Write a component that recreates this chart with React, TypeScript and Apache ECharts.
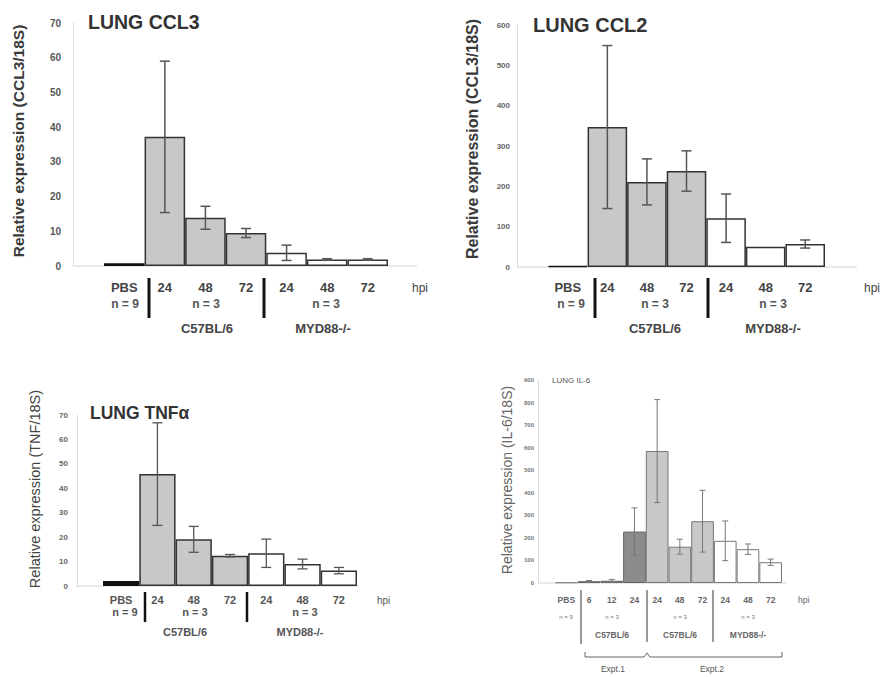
import React, { useEffect, useRef } from 'react';
import * as echarts from 'echarts';

// ---------- data ----------
const cclCategories = ['PBS', '24', '48', '72', '24', '48', '72'];
const cclGroups = ['pbs', 'wt', 'wt', 'wt', 'ko', 'ko', 'ko'];
const cclNLabels = ['n = 9', 'n = 3', 'n = 3'];
const cclStrainLabels = ['C57BL/6', 'MYD88-/-'];

const ccl3Values = [0.8, 37.2, 13.9, 9.5, 3.8, 1.9, 1.9];
const ccl3Errors = [0, 21.8, 3.3, 1.3, 2.2, 0.2, 0.2];

const ccl2Values = [2, 347, 211, 238, 121, 50, 57];
const ccl2Errors = [0, 202, 57, 50, 60, 0, 10];

const tnfValues = [2, 45.8, 19.1, 12.4, 13.4, 9.0, 6.3];
const tnfErrors = [0, 21, 5.3, 0.5, 5.8, 2, 1.3];

const il6Categories = ['PBS', '6', '12', '24', '24', '48', '72', '24', '48', '72'];
const il6Groups = ['pbs', 'e1', 'e1', 'e1', 'wt', 'wt', 'wt', 'ko', 'ko', 'ko'];
const il6Values = [3, 8, 10, 228, 585, 161, 274, 187, 150, 92];
const il6Errors = [0, 3, 6, 105, 228, 33, 137, 88, 23, 14];
const il6NLabels = ['n = 9', 'n = 3', 'n = 3', 'n = 3'];
const il6StrainLabels = ['C57BL/6', 'C57BL/6', 'MYD88-/-'];
const il6ExptLabels = ['Expt.1', 'Expt.2'];

const FONT = '"Liberation Sans", Arial, Helvetica, sans-serif';

function txt(text: string, x: number, y: number, size: number, o: any = {}) {
  const align = o.align || 'center';
  return {
    type: 'text',
    x,
    y,
    rotation: o.rotation || 0,
    z: 10,
    style: {
      text,
      fontSize: size,
      fontWeight: o.weight || 'normal',
      fontFamily: FONT,
      fill: o.color || '#333',
      align,
      verticalAlign: 'middle',
      textAlign: align,
      textVerticalAlign: 'middle',
    },
  };
}

function line(x1: number, y1: number, x2: number, y2: number, stroke: string, w: number) {
  return { type: 'line', z: 0, shape: { x1, y1, x2, y2 }, style: { stroke, lineWidth: w } };
}

function buildPanel(idx: number, p: any) {
  const grid = { left: p.left, top: p.top, width: p.width, height: p.height };
  const xAxis = {
    type: 'category',
    gridIndex: idx,
    data: p.categories,
    axisLine: { show: false },
    axisTick: { show: false },
    axisLabel: {
      interval: 0,
      margin: p.catMargin,
      fontSize: p.catSize,
      fontWeight: 'bold',
      color: p.catColor,
      fontFamily: FONT,
    },
  };
  const yAxis = {
    type: 'value',
    gridIndex: idx,
    min: 0,
    max: p.max,
    interval: p.interval,
    offset: p.offset,
    axisLine: { show: true, lineStyle: { color: '#dcdcdc', width: 1 } },
    axisTick: { show: false },
    splitLine: { show: false },
    axisLabel: {
      margin: p.tickMargin,
      fontSize: p.tickSize,
      fontWeight: 'bold',
      color: p.tickColor,
      fontFamily: FONT,
    },
  };
  const bar = {
    type: 'bar',
    xAxisIndex: idx,
    yAxisIndex: idx,
    barWidth: '100%',
    z: 2,
    data: p.values.map((v: number, i: number) => ({
      value: v,
      itemStyle: {
        color: p.fill[p.groups[i]],
        borderColor: p.border[p.groups[i]],
        borderWidth: p.borderWidth,
      },
    })),
  };
  const err = {
    type: 'custom',
    xAxisIndex: idx,
    yAxisIndex: idx,
    z: 3,
    encode: { x: 0, y: 1 },
    data: p.values.map((v: number, i: number) => [i, v, p.errors[i]]),
    renderItem: (_params: any, api: any) => {
      const x = api.value(0);
      const y = api.value(1);
      const e = api.value(2);
      if (!e) return null;
      const top = api.coord([x, y + e]);
      const bot = api.coord([x, Math.max(0, y - e)]);
      const hw = p.cap;
      const st = { stroke: p.errColor, lineWidth: p.errWidth };
      return {
        type: 'group',
        children: [
          { type: 'line', shape: { x1: top[0], y1: top[1], x2: bot[0], y2: bot[1] }, style: st },
          { type: 'line', shape: { x1: top[0] - hw, y1: top[1], x2: top[0] + hw, y2: top[1] }, style: st },
          { type: 'line', shape: { x1: bot[0] - hw, y1: bot[1], x2: bot[0] + hw, y2: bot[1] }, style: st },
        ],
      };
    },
  };
  return { grid, xAxis, yAxis, series: [bar, err] };
}

const cclFill = { pbs: '#111111', wt: '#c8c8c8', ko: '#ffffff' };
const cclBorder = { pbs: '#111111', wt: '#333333', ko: '#333333' };

export default function App() {
  const ref = useRef<HTMLDivElement>(null);
  useEffect(() => {
    document.body.style.margin = '0';
    if (!ref.current) return;
    const chart = echarts.init(ref.current, undefined, { renderer: 'svg' });

    const panels = [
      {
        left: 104, top: 23, width: 284, height: 243, max: 70, interval: 10, offset: 31,
        categories: cclCategories, groups: cclGroups, values: ccl3Values, errors: ccl3Errors,
        fill: cclFill, border: cclBorder, borderWidth: 1.5,
        catMargin: 15, catSize: 13, catColor: '#444',
        tickMargin: 12, tickSize: 10, tickColor: '#555',
        cap: 5, errColor: '#555', errWidth: 1.5,
      },
      {
        left: 548, top: 25, width: 277, height: 242, max: 600, interval: 100, offset: 31,
        categories: cclCategories, groups: cclGroups, values: ccl2Values, errors: ccl2Errors,
        fill: { pbs: '#333333', wt: '#c8c8c8', ko: '#ffffff' }, border: cclBorder, borderWidth: 1.5,
        catMargin: 14, catSize: 13, catColor: '#444',
        tickMargin: 7, tickSize: 8, tickColor: '#666',
        cap: 5, errColor: '#555', errWidth: 1.5,
      },
      {
        left: 103, top: 415, width: 254, height: 171, max: 70, interval: 10, offset: 26,
        categories: cclCategories, groups: cclGroups, values: tnfValues, errors: tnfErrors,
        fill: cclFill, border: cclBorder, borderWidth: 1.5,
        catMargin: 8, catSize: 11, catColor: '#555',
        tickMargin: 9, tickSize: 8, tickColor: '#666',
        cap: 5, errColor: '#555', errWidth: 1.3,
      },
      {
        left: 555, top: 380, width: 227, height: 203, max: 900, interval: 100, offset: 17,
        categories: il6Categories, groups: il6Groups, values: il6Values, errors: il6Errors,
        fill: { pbs: '#999999', e1: '#8c8c8c', wt: '#c8c8c8', ko: '#ffffff' },
        border: { pbs: '#888888', e1: '#666666', wt: '#777777', ko: '#777777' }, borderWidth: 1,
        catMargin: 12, catSize: 8.5, catColor: '#666',
        tickMargin: 4, tickSize: 6, tickColor: '#777',
        cap: 3, errColor: '#777', errWidth: 1,
      },
    ];

    const built = panels.map((p, i) => buildPanel(i, p));

    const graphics: any[] = [
      // baselines
      line(73, 266, 417, 266, '#d4d4d4', 1),
      line(517, 267, 857, 267, '#d4d4d4', 1),
      line(77, 586, 358, 586, '#d4d4d4', 1),
      line(538, 583, 787, 583, '#d4d4d4', 1),

      // ---- panel 1: CCL3 ----
      txt('LUNG CCL3', 88, 22, 19.5, { align: 'left', weight: 'bold', color: '#333' }),
      txt('Relative expression (CCL3/18S)', 18, 141, 15.5, { rotation: Math.PI / 2, weight: 'bold', color: '#3a3a3a' }),
      txt('hpi', 412, 288, 12, { align: 'left', color: '#444' }),
      txt(cclNLabels[0], 125, 304, 12, { weight: 'bold', color: '#555' }),
      txt(cclNLabels[1], 206, 304, 12, { weight: 'bold', color: '#555' }),
      txt(cclNLabels[2], 326, 304, 12, { weight: 'bold', color: '#555' }),
      txt(cclStrainLabels[0], 207, 328, 13, { weight: 'bold', color: '#444' }),
      txt(cclStrainLabels[1], 323, 328, 13, { weight: 'bold', color: '#444' }),
      line(149, 278, 149, 318, '#111', 3),
      line(264, 278, 264, 318, '#111', 3),

      // ---- panel 2: CCL2 ----
      txt('LUNG CCL2', 533, 25, 20, { align: 'left', weight: 'bold', color: '#333' }),
      txt('Relative expression (CCL3/18S)', 472, 139, 16, { rotation: Math.PI / 2, weight: 'bold', color: '#3a3a3a' }),
      txt('hpi', 864, 288, 12, { align: 'left', color: '#444' }),
      txt(cclNLabels[0], 571, 304, 12, { weight: 'bold', color: '#555' }),
      txt(cclNLabels[1], 655, 304, 12, { weight: 'bold', color: '#555' }),
      txt(cclNLabels[2], 773, 304, 12, { weight: 'bold', color: '#555' }),
      txt(cclStrainLabels[0], 655, 328, 13, { weight: 'bold', color: '#444' }),
      txt(cclStrainLabels[1], 773, 328, 13, { weight: 'bold', color: '#444' }),
      line(595, 278, 595, 318, '#111', 3),
      line(708, 278, 708, 318, '#111', 3),

      // ---- panel 3: TNF ----
      txt('LUNG TNFα', 90, 413, 17.5, { align: 'left', weight: 'bold', color: '#333' }),
      txt('Relative expression (TNF/18S)', 35, 489, 14.5, { rotation: Math.PI / 2, color: '#444' }),
      txt('hpi', 377, 600, 10, { align: 'left', color: '#555' }),
      txt(cclNLabels[0], 125, 612, 11, { weight: 'bold', color: '#555' }),
      txt(cclNLabels[1], 195, 612, 11, { weight: 'bold', color: '#555' }),
      txt(cclNLabels[2], 305, 612, 11, { weight: 'bold', color: '#555' }),
      txt(cclStrainLabels[0], 185, 632, 11, { weight: 'bold', color: '#555' }),
      txt(cclStrainLabels[1], 300, 632, 11, { weight: 'bold', color: '#555' }),
      line(145, 592, 145, 622, '#111', 2.5),
      line(247, 592, 247, 622, '#111', 2.5),

      // ---- panel 4: IL-6 ----
      txt('LUNG IL-6', 552, 380, 8, { align: 'left', color: '#555' }),
      txt('Relative expression (IL-6/18S)', 507, 480, 14, { rotation: Math.PI / 2, color: '#666' }),
      txt('hpi', 798, 600, 8.5, { align: 'left', color: '#666' }),
      txt(il6NLabels[0], 566, 617, 6, { color: '#777' }),
      txt(il6NLabels[1], 612, 617, 6, { color: '#777' }),
      txt(il6NLabels[2], 680, 617, 6, { color: '#777' }),
      txt(il6NLabels[3], 748, 617, 6, { color: '#777' }),
      txt(il6StrainLabels[0], 612, 635, 8.5, { weight: 'bold', color: '#666' }),
      txt(il6StrainLabels[1], 680, 635, 8.5, { weight: 'bold', color: '#666' }),
      txt(il6StrainLabels[2], 748, 635, 8.5, { weight: 'bold', color: '#666' }),
      line(581, 590, 581, 644, '#999', 2),
      line(647, 590, 647, 642, '#999', 2),
      line(713, 590, 713, 642, '#999', 2),
      {
        type: 'polyline', z: 0,
        shape: { points: [[585, 652], [585, 657], [644, 657], [647, 653], [650, 657], [782, 657], [782, 652]] },
        style: { stroke: '#666', lineWidth: 1, fill: 'none' },
      },
      txt(il6ExptLabels[0], 613, 669, 8.5, { color: '#555' }),
      txt(il6ExptLabels[1], 712, 669, 8.5, { color: '#555' }),
    ];

    chart.setOption({
      animation: false,
      backgroundColor: '#ffffff',
      grid: built.map((b) => b.grid),
      xAxis: built.map((b) => b.xAxis),
      yAxis: built.map((b) => b.yAxis),
      series: built.flatMap((b) => b.series),
      graphic: { elements: graphics },
    });
    return () => chart.dispose();
  }, []);
  return (
    <div
      ref={ref}
      style={{ position: 'absolute', left: 0, top: 0, width: 888, height: 677, background: '#fff' }}
    />
  );
}
